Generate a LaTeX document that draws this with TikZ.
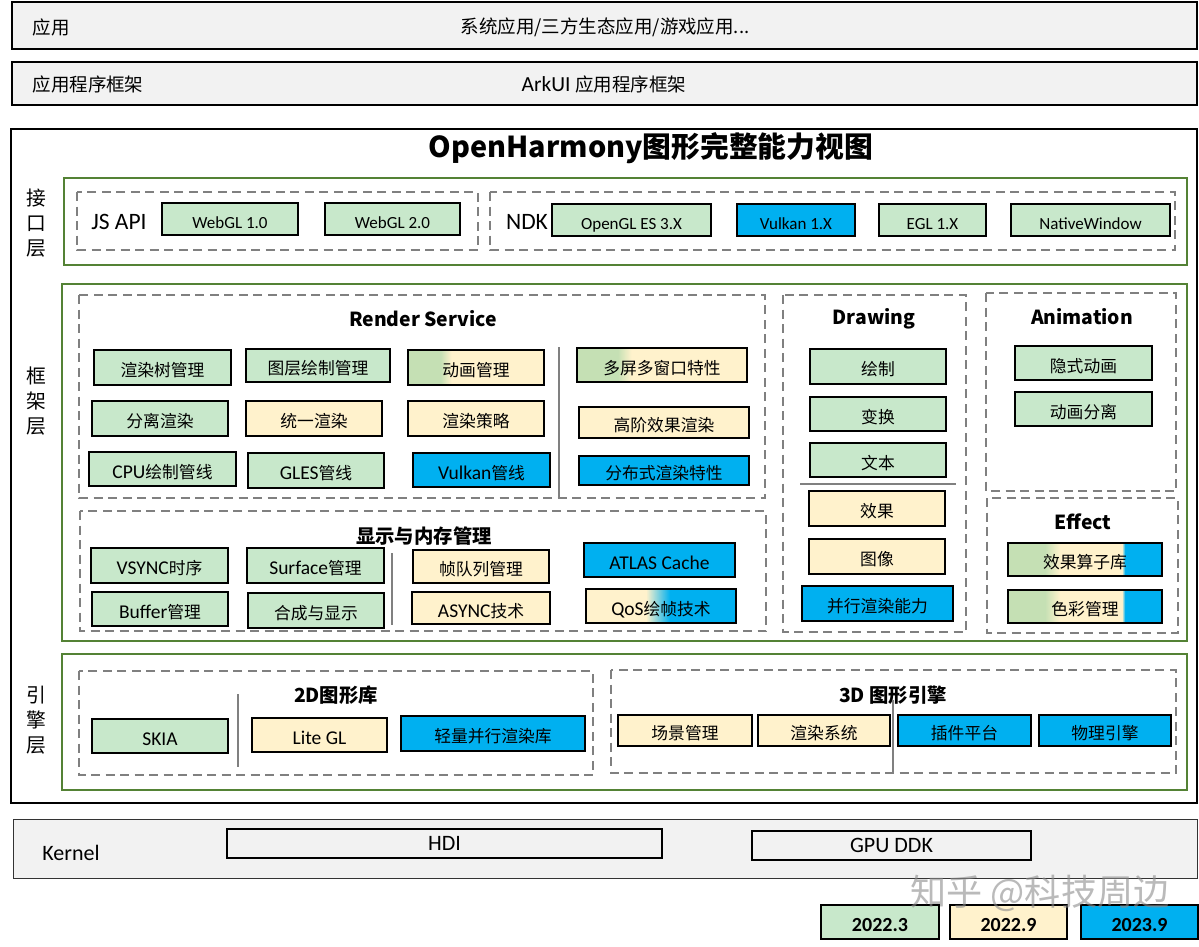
\documentclass[tikz,border=0pt]{standalone}
\usepackage{fontspec}
\setmainfont{Carlito}
\newfontfamily\zh{Noto Sans CJK SC}[Scale=0.86]
\usetikzlibrary{positioning}

\definecolor{cgreen}{RGB}{200,232,203}
\definecolor{cgreen2}{RGB}{197,224,180}
\definecolor{ccream}{RGB}{255,242,204}
\definecolor{cblue}{RGB}{0,176,240}
\definecolor{lgray}{RGB}{242,242,242}
\definecolor{tgreen}{RGB}{84,130,53}
\definecolor{dgray}{RGB}{128,128,128}

% mixed colour fills (the 25bp..75bp band is the box)
\pgfdeclarehorizontalshading{gcshade}{100bp}{color(0bp)=(cgreen2); color(37bp)=(cgreen2); color(41bp)=(ccream); color(100bp)=(ccream)}
\pgfdeclarehorizontalshading{cbshade}{100bp}{color(0bp)=(ccream); color(45bp)=(ccream); color(53bp)=(cblue); color(100bp)=(cblue)}
\pgfdeclarehorizontalshading{gcbshade}{100bp}{color(0bp)=(cgreen2); color(37bp)=(cgreen2); color(42bp)=(ccream); color(62bp)=(ccream); color(63bp)=(cblue); color(100bp)=(cblue)}

\newcommand\bxfont{\fontsize{19.5}{22}\selectfont}

\tikzset{
  layer/.style={draw=black, line width=1.6pt, fill=lgray},
  tier/.style={draw=tgreen, line width=1.6pt},
  grp/.style={draw=dgray, line width=1.4pt, dash pattern=on 9pt off 5.5pt},
  sep/.style={draw=dgray, line width=1.4pt},
  blk/.style={draw=black, line width=1.8pt, inner sep=0pt, text height=18pt, text depth=0pt, font=\bxfont},
  gbx/.style={blk, fill=cgreen},
  ybx/.style={blk, fill=ccream},
  bbx/.style={blk, fill=cblue},
  shd/.style={blk, shade, shading=#1},
  wh/.style 2 args={minimum width=#1pt, minimum height=#2pt},
  small/.style={font=\fontsize{17}{20}\selectfont},
  lbl/.style={inner sep=0pt, font=\fontsize{21.5}{24}\selectfont},
  tag/.style={inner sep=0pt, font=\fontsize{23.5}{26}\selectfont},
  side/.style={inner sep=0pt, align=center, font={\zh\fontsize{23}{25}\selectfont}},
  sec/.style={inner sep=0pt, font={\zh\bfseries\fontsize{22.5}{25}\selectfont}},
}

\begin{document}
\begin{tikzpicture}[x=1pt,y=-1pt]
  \useasboundingbox[fill=white] (0,0) rectangle (1199,946);

  % applications and app framework
  \draw[layer] (12,2) rectangle (1197,49);
  \node[lbl] (appL) at (51,27) {\zh 应用};
  \node[lbl] (appT) at (605,27) {\zh 系统应用/三方生态应用/游戏应用...};
  \draw[layer] (12,62) rectangle (1197,105);
  \node[lbl] (arkL) at (88,84) {\zh 应用程序框架};
  \node[lbl] (arkT) at (604,84) {ArkUI {\zh 应用程序框架}};

  % graphics view
  \draw[draw=black, line width=1.6pt] (11,129) rectangle (1197,803);
  \node[inner sep=0pt, font={\zh\bfseries\fontsize{33.5}{36}\selectfont}] (title) at (651,148) {OpenHarmony图形完整能力视图};

  % interface layer
  \draw[tier] (64,178) rectangle (1187,265);
  \node[side] (ifL) at (36,223) {接\\口\\层};
  \draw[grp] (77,192) rectangle (478,250);
  \node[tag] (js) at (119,222) {JS API};
  \node[gbx, wh={136}{32}, small] (gl1) at (230,219) {WebGL 1.0};
  \node[gbx, wh={135}{32}, small] (gl2) at (392.5,219) {WebGL 2.0};
  \draw[grp] (490,192) rectangle (1175,250);
  \node[tag] (ndk) at (527,222) {NDK};
  \node[gbx, wh={159}{32}, small] (gles) at (631.5,220) {OpenGL ES 3.X};
  \node[bbx, wh={118}{32}, small] (vk) at (796,220) {Vulkan 1.X};
  \node[gbx, wh={107}{32}, small] (egl) at (932.5,220) {EGL 1.X};
  \node[gbx, wh={159}{32}, small] (nw) at (1090.5,220) {NativeWindow};

  % framework layer
  \draw[tier] (62,284) rectangle (1187,641);
  \node[side] (fwL) at (36,401) {框\\架\\层};

  % render service
  \draw[grp] (79,295) rectangle (765,498);
  \node[sec] (rs) at (423,319) {Render Service};
  \node[gbx, wh={137}{35}] (tree) at (162.5,367.5) {\zh 渲染树管理};
  \node[gbx, wh={144}{33}] (layerdraw) at (318,365.5) {\zh 图层绘制管理};
  \node[shd=gcshade, wh={136}{35}] (anim) at (476,367.5) {\zh 动画管理};
  \node[gbx, wh={136}{35}] (split) at (160,418.5) {\zh 分离渲染};
  \node[ybx, wh={136}{35}] (unify) at (314,418.5) {\zh 统一渲染};
  \node[ybx, wh={136}{35}] (policy) at (476,418.5) {\zh 渲染策略};
  \node[gbx, wh={147}{34}] (cpu) at (162.5,469) {CPU{\zh 绘制管线}};
  \node[gbx, wh={136}{35}] (glp) at (316,470.5) {GLES{\zh 管线}};
  \node[bbx, wh={137}{34}] (vkp) at (481.5,470) {Vulkan{\zh 管线}};
  \draw[sep] (559,347) -- (559,498);
  \node[shd=gcshade, wh={170}{34}] (multi) at (662,365) {\zh 多屏多窗口特性};
  \node[ybx, wh={170}{31}] (hfx) at (664,422.5) {\zh 高阶效果渲染};
  \node[bbx, wh={170}{29}] (dist) at (664,470.5) {\zh 分布式渲染特性};

  % display and memory
  \draw[grp] (80,511) rectangle (766,631);
  \node[sec] (dm) at (424,536) {显示与内存管理};
  \node[gbx, wh={137}{35}] (vsync) at (159.5,565.5) {VSYNC{\zh 时序}};
  \node[gbx, wh={137}{35}] (surf) at (315.5,565.5) {Surface{\zh 管理}};
  \node[gbx, wh={136}{34}] (buf) at (160,609) {Buffer{\zh 管理}};
  \node[gbx, wh={136}{35}] (comp) at (316,610.5) {\zh 合成与显示};
  \draw[sep] (392,553) -- (392,625);
  \node[ybx, wh={136}{33}] (fq) at (481,566.5) {\zh 帧队列管理};
  \node[ybx, wh={138}{32}] (async) at (481,608) {ASYNC{\zh 技术}};
  \node[bbx, wh={151}{34}] (atlas) at (659.5,560) {ATLAS Cache};
  \node[shd=cbshade, wh={150}{34}] (qos) at (661,606) {QoS{\zh 绘帧技术}};

  % drawing
  \draw[grp] (783,295) rectangle (966,632);
  \node[sec] (dr) at (874,319) {Drawing};
  \node[gbx, wh={136}{35}] (paint) at (878,366.5) {\zh 绘制};
  \node[gbx, wh={136}{34}] (xform) at (878,414) {\zh 变换};
  \node[gbx, wh={136}{34}] (txt) at (878,460) {\zh 文本};
  \draw[sep] (800,484) -- (956,484);
  \node[ybx, wh={136}{35}] (fx) at (877,508.5) {\zh 效果};
  \node[ybx, wh={136}{35}] (img) at (877,556.5) {\zh 图像};
  \node[bbx, wh={151}{35}] (par) at (877.5,603.5) {\zh 并行渲染能力};

  % animation
  \draw[grp] (986,293) rectangle (1176,491);
  \node[sec] (an) at (1082,317) {Animation};
  \node[gbx, wh={137}{34}] (imp) at (1083.5,363) {\zh 隐式动画};
  \node[gbx, wh={137}{34}] (asep) at (1083.5,409) {\zh 动画分离};

  % effect
  \draw[grp] (987,498) rectangle (1178,633);
  \node[sec] (ef) at (1083,522) {Effect};
  \node[shd=gcbshade, wh={154}{33}] (oplib) at (1085,559.5) {\zh 效果算子库};
  \node[shd=gcbshade, wh={154}{33}] (color) at (1085,606.5) {\zh 色彩管理};

  % engine layer
  \draw[tier] (62,654) rectangle (1187,790);
  \node[side] (enL) at (36,720) {引\\擎\\层};
  \draw[grp] (79,671) rectangle (593,775);
  \node[sec] (g2d) at (336,695) {2D图形库};
  \node[gbx, wh={136}{34}] (skia) at (160,736) {SKIA};
  \draw[sep] (238,694) -- (238,767);
  \node[ybx, wh={135}{34}] (lite) at (319.5,735) {Lite GL};
  \node[bbx, wh={184}{35}] (light) at (493,733.5) {\zh 轻量并行渲染库};
  \draw[grp] (611,670) rectangle (1176,773);
  \node[sec] (g3d) at (893,695) {3D 图形引擎};
  \draw[sep] (893,700) -- (893,773);
  \node[ybx, wh={134}{31}] (scene) at (685,730.5) {\zh 场景管理};
  \node[ybx, wh={132}{31}] (rsys) at (824,730.5) {\zh 渲染系统};
  \node[bbx, wh={133}{31}] (plug) at (964.5,730.5) {\zh 插件平台};
  \node[bbx, wh={132}{31}] (phys) at (1105,730.5) {\zh 物理引擎};

  % kernel
  \draw[draw=black!80, line width=1pt, fill=lgray] (13,819) rectangle (1197,878);
  \node[inner sep=0pt, font=\fontsize{22}{24}\selectfont] (kern) at (71,853) {Kernel};
  \node[draw=black, line width=1.8pt, fill=lgray, wh={435}{29}, inner sep=0pt, font=\fontsize{22}{24}\selectfont] (hdi) at (444.5,843.5) {HDI};
  \node[draw=black, line width=1.8pt, fill=lgray, wh={279}{29}, inner sep=0pt, font=\fontsize{22}{24}\selectfont] (ddk) at (891.5,845.5) {GPU DDK};

  % legend
  \node[gbx, wh={118}{34}, font=\bfseries\fontsize{20}{22}\selectfont] (v1) at (880,922) {2022.3};
  \node[ybx, wh={117}{34}, font=\bfseries\fontsize{20}{22}\selectfont] (v2) at (1008.5,922) {2022.9};
  \node[bbx, wh={117}{34}, font=\bfseries\fontsize{20}{22}\selectfont] (v3) at (1139.5,922) {2023.9};

  % watermark
  \node[text=black!45, opacity=.6, inner sep=0pt, font={\zh\fontsize{42}{44}\selectfont}] (wm) at (1040,893) {知乎 @科技周边};
\end{tikzpicture}
\end{document}
